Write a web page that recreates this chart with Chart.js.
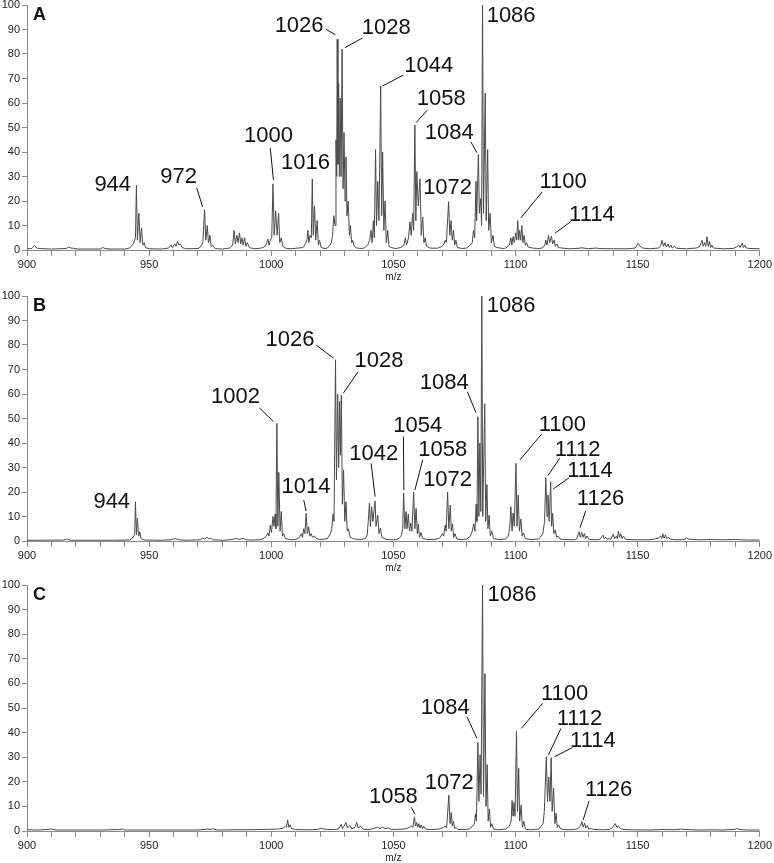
<!DOCTYPE html>
<html>
<head>
<meta charset="utf-8">
<script src="https://cdn.jsdelivr.net/npm/chart.js@4.4.1/dist/chart.umd.min.js"></script>
<style>
  html, body { margin: 0; padding: 0; background: #fff; }
  body { width: 774px; height: 863px; position: relative; overflow: hidden; }
  canvas { position: absolute; left: 0; }
</style>
</head>
<body>
<canvas id="chart-a" width="774" height="290" style="top:0px"></canvas>
<canvas id="chart-b" width="774" height="290" style="top:290px"></canvas>
<canvas id="chart-c" width="774" height="284" style="top:580px"></canvas>
<script>
// Profile spectra: [m/z, relative intensity %]
const spectrumA = [
  [900,0.5],[902,0.6],[903,1.8],[904,0.8],[905,0.6],[910,0.4],[916,0.6],[917,1.2],[918,0.8],[919,0.7],[921,0.4],
  [930,0.4],[931,1.0],[932,0.6],[934,0.4],[940,0.4],[942,0.8],[943.5,2.5],
  [944.4,5],[944.8,26.5],[945.2,4],[945.8,15],[946.3,3],[946.9,9],[947.4,2],[948,3],[948.5,1],[950,0.5],
  [955,0.4],[958,0.8],[959,2],[959.5,1],[960.5,2.5],[961,1.5],[961.6,3.5],[962.2,2],[962.8,2.5],[963.5,1],[965,0.5],
  [970,0.6],[971,1.2],[972,3],[972.7,16.5],[973.2,4],[973.8,10],[974.3,3],[974.9,6],[975.4,1.5],[976,2],[977,0.6],
  [980,0.4],[983,0.8],[984.2,2],[984.8,8],[985.3,2.5],[985.9,6],[986.4,3],[987,7],[987.5,2.5],[988,5],[988.5,2],
  [989.1,5],[989.6,1.5],[990.2,3],[991,1],[993,0.5],
  [996,0.8],[997.5,1.5],[998.2,3],[998.6,4.5],[999.1,2],[999.6,4],[1000.2,5],[1000.7,27],[1001.2,6],[1001.8,16],
  [1002.4,6],[1003,15],[1003.5,3],[1004.1,5],[1004.7,1.5],[1006,0.7],[1008,0.5],[1011,0.8],
  [1013,1],[1014,2.5],[1014.6,4],[1015,8],[1015.4,3],[1015.9,6],[1016.4,5],[1016.8,29],[1017.2,6],[1017.7,18],
  [1018.2,4],[1018.8,12],[1019.3,2],[1019.8,4],[1020.4,1],[1022,0.6],
  [1023,0.8],[1024,2],[1024.6,3],[1025.1,6],[1025.6,14],[1026.1,10],[1026.5,45],[1026.8,30],[1027.0,86],[1027.3,35],
  [1027.6,68],[1027.9,30],[1028.2,62],[1028.6,30],[1029.0,82],[1029.4,25],[1029.8,48],[1030.2,20],[1030.6,38],
  [1031.0,14],[1031.5,20],[1032.0,6],[1032.4,10],[1032.9,3],[1033.3,4],[1034,1.5],[1035,0.8],[1037,0.6],
  [1038,0.8],[1039.5,2],[1040.3,4],[1040.8,8],[1041.3,3],[1041.8,12],[1042.2,5],[1042.7,41],[1043.1,10],[1043.6,28],
  [1044.1,12],[1044.8,67],[1045.2,14],[1045.6,40],[1046.1,8],[1046.6,20],[1047.1,3],[1047.7,8],[1048.2,1.5],
  [1049,1],[1051,0.6],
  [1053,1],[1054.3,2],[1054.9,5],[1055.4,2],[1056.2,5],[1056.8,11.5],[1057.3,6],[1057.9,15],[1058.3,8],[1058.8,51],
  [1059.2,12],[1059.6,32],[1060.2,18],[1060.9,29],[1061.4,6],[1062,13.5],[1062.5,3],[1063,5],[1063.6,1.5],[1065,0.8],
  [1068,0.7],[1070,1.5],[1070.7,2.5],[1071.2,4],[1071.7,3],[1072.6,19.7],[1073.1,6],[1073.6,12],[1074.1,4],
  [1074.6,8],[1075.1,2],[1075.6,4],[1076.2,1],[1078,0.6],
  [1080,0.8],[1081.5,2],[1082.3,3],[1082.8,8],[1083.3,5],[1083.8,28],[1084.1,12],[1084.8,39],[1085.2,15],[1085.8,21],
  [1086.1,10],[1086.5,100],[1086.9,15],[1087.6,64],[1088.0,12],[1088.6,41],[1089.0,8],[1089.6,15],[1090.1,3],
  [1090.8,6],[1091.3,1.5],[1092.5,1],[1095,0.6],
  [1096,0.8],[1097.5,2],[1098.1,5],[1098.5,2],[1099,5.5],[1099.5,3],[1100.1,7],[1100.5,4],[1100.9,12],[1101.3,4],
  [1101.7,8],[1102.1,4],[1102.6,10],[1103.0,3],[1103.5,6],[1104,2],[1104.5,3],[1105.2,1.2],[1107,0.8],[1109,0.6],
  [1111,0.8],[1112,2],[1112.4,4],[1112.9,2],[1113.5,6],[1114,3],[1114.7,5.7],[1115.2,2.5],[1115.8,4],[1116.3,1.5],
  [1116.9,2.5],[1117.5,1],[1119,0.8],[1122,0.5],[1126,0.7],[1127,0.9],[1130,0.5],[1133,0.8],[1134,0.6],[1140,0.5],
  [1146,0.5],[1149,0.8],[1150.2,2.7],[1151,1.5],[1152,0.8],[1155,0.5],
  [1158.5,0.8],[1159.4,1.5],[1160,4],[1160.6,1.5],[1161.2,3],[1161.8,1.2],[1162.4,2.5],[1163,1],[1163.6,2],
  [1164.2,0.8],[1165,1.5],[1166,0.7],[1170,0.5],
  [1174,0.8],[1175.5,1.5],[1176.4,4],[1176.9,1.5],[1177.4,3],[1177.9,1.5],[1178.4,5.4],[1178.9,1.5],[1179.4,3.5],
  [1179.9,1],[1180.4,2],[1181,0.8],[1185,0.5],
  [1189,0.6],[1190.5,1.2],[1191.4,2],[1192,1],[1192.8,2.8],[1193.3,1],[1193.9,2],[1194.5,0.8],[1196,0.6],[1200,0.5]
];

const spectrumB = [
  [900,0.3],[905,0.3],[915,0.4],[916.5,0.8],[918,0.3],[925,0.3],[935,0.3],[942,0.4],[943.5,1.5],
  [944.1,3],[944.4,16],[944.8,2.5],[945.2,9.3],[945.7,2],[946.2,3.8],[946.7,1],[948,0.4],[955,0.3],
  [959,0.5],[960.5,1],[961.5,0.7],[962.5,0.5],[965,0.3],
  [971,0.5],[972,1.2],[972.8,0.8],[973.6,1.6],[974.4,0.8],[975.2,1.2],[976,0.5],[980,0.3],
  [984,0.6],[985.5,1],[987,0.7],[988.5,1.1],[989.5,0.5],[992,0.4],[995,0.5],
  [996.5,0.8],[998,2],[998.6,3.3],[999.1,2],[999.6,6.5],[1000.1,3.5],[1000.7,10],[1001.1,6],[1001.6,11],[1001.9,5],
  [1002.3,48],[1002.7,6],[1003.1,28],[1003.6,4],[1004.1,12],[1004.6,2],[1005.1,3],[1005.8,1],[1008,0.5],
  [1010,0.6],[1011.5,1.5],[1012.3,3],[1012.8,1.5],[1013.3,5],[1013.8,3],[1014.3,11.3],[1014.8,3],[1015.3,5.8],
  [1015.8,2],[1016.3,3],[1016.9,1.5],[1017.7,2],[1018.5,1],[1020,0.6],[1022,0.8],
  [1023,1],[1024.2,3],[1024.8,5],[1025.3,11],[1025.7,8],[1026.3,74],[1026.7,25],[1027.2,60],[1027.6,30],[1028,57],
  [1028.3,35],[1028.7,59.6],[1029.1,15],[1029.6,29],[1030.1,8],[1030.6,16],[1031.1,4],[1031.6,5],[1032.3,1.5],
  [1034,0.8],[1037,0.6],
  [1038.5,1],[1039.3,2.5],[1039.7,8],[1040.2,15.4],[1040.6,6],[1041.1,14],[1041.6,8],[1042.5,16.3],[1042.9,6],
  [1043.6,10.6],[1044.1,3],[1044.7,5.3],[1045.3,1.5],[1047,0.6],[1050,0.5],
  [1052,0.8],[1053.2,2],[1053.8,5],[1054.2,19.5],[1054.7,5],[1055.2,12],[1055.6,5],[1056.1,11],[1056.6,4],
  [1057.1,7.3],[1057.6,4],[1058.3,20],[1058.8,5],[1059.3,13.3],[1059.8,3],[1060.2,7],[1060.7,1.5],[1061.3,3.5],
  [1062,1],[1064,0.6],
  [1067,0.6],[1069,1.2],[1070.1,3],[1070.6,2],[1071.2,6.5],[1071.6,4],[1072.2,20],[1072.7,5],[1073.3,14.7],
  [1073.7,4],[1074.2,7],[1074.7,1.5],[1075.2,3],[1076,0.8],[1078,0.6],
  [1080,0.8],[1081.5,2],[1082.3,4],[1082.9,7],[1083.4,4],[1083.9,15],[1084.2,8],[1084.6,50.7],[1085.0,10],
  [1085.4,40],[1085.8,12],[1086.2,100],[1086.6,10],[1087.4,56],[1087.8,8],[1088.3,23],[1088.7,5],[1089.2,10.6],
  [1089.7,2],[1090.3,4],[1091,1],[1093,0.6],
  [1096,0.8],[1097,2],[1097.6,5],[1098.1,14],[1098.6,4],[1099,11.4],[1099.5,6],[1100.2,31.7],[1100.6,6],
  [1101.1,18.8],[1101.6,4],[1102.2,9],[1102.7,2],[1103.3,3.3],[1104,1],[1106,0.6],
  [1109.5,0.8],[1110.5,2],[1111.2,3],[1111.9,8],[1112.4,25.8],[1112.9,10],[1113.3,18.8],[1113.8,8],[1114.4,24.2],
  [1114.8,6],[1115.2,11.3],[1115.7,3],[1116.3,4.5],[1116.8,1.5],[1117.4,2],[1118.2,0.8],[1120,0.6],[1124,0.5],
  [1125,0.8],[1126,3.8],[1126.5,1.5],[1127.1,3.5],[1127.6,1.5],[1128.2,3],[1128.7,1],[1129.3,2],[1130,0.7],[1133,0.5],
  [1134.5,0.7],[1135.8,2.4],[1136.3,0.8],[1136.9,1.5],[1137.5,0.7],[1138.3,1],[1139,0.6],[1140,2.8],[1140.6,1],
  [1141.3,2],[1141.7,1],[1142.1,4],[1142.6,1.5],[1143.1,3],[1143.6,1],[1144.2,2],[1145,0.7],[1148,0.5],
  [1155,0.5],[1157,0.8],[1158.5,1.2],[1159.4,2],[1159.9,1],[1160.3,3],[1160.8,1.2],[1161.4,2.5],[1161.9,1],
  [1162.5,1.5],[1163.5,0.7],[1166,0.5],[1169,0.6],[1170,1.2],[1171,0.7],[1175,0.5],[1180,0.6],[1185,0.5],
  [1190,0.6],[1195,0.4],[1200,0.4]
];

const spectrumC = [
  [900,0.5],[905,0.4],[910,0.8],[912,0.4],[920,0.4],[930,0.4],[938,0.6],[939,0.8],[940,0.4],[950,0.4],[960,0.4],
  [970,0.4],[974,0.8],[975,0.6],[976,0.9],[978,0.4],[985,0.5],[990,0.5],[995,0.6],[999,0.7],
  [1003,0.8],[1005,1.2],[1005.8,2],[1006.3,1.5],[1006.7,4.5],[1007.2,1.5],[1007.7,2.5],[1008.3,1],[1010,0.6],
  [1015,0.5],[1019,0.6],[1020.5,1.2],[1021.5,0.8],[1023,0.6],[1026,0.6],
  [1027.5,0.8],[1028.6,2.7],[1029.2,1],[1029.8,2],[1030.6,3.5],[1031.2,1.2],[1032.2,2.3],[1033,0.8],[1034.3,1.5],
  [1035,3.5],[1035.6,1.2],[1036.6,2],[1037.5,0.8],[1040,0.6],[1042,1],[1043.5,1.5],[1044.5,1],[1045.5,1.6],
  [1046.5,1],[1048,1.2],[1049,0.7],[1051,0.6],[1054,0.8],
  [1055.5,1],[1056.5,1.5],[1057.5,2],[1058,1.5],[1058.6,5.8],[1059.1,2],[1059.5,3.4],[1060,1.5],[1060.4,3],
  [1060.9,1.2],[1061.4,2.5],[1061.9,1],[1062.4,2],[1063.2,0.8],[1065,0.6],
  [1069,0.8],[1070.5,1.5],[1071.3,2],[1071.8,1.2],[1072.7,14.5],[1073.2,3],[1073.7,7.5],[1074.1,2],[1074.6,4],
  [1075.1,1],[1075.7,1.5],[1076.5,0.6],[1079,0.6],
  [1081,0.8],[1082.5,2],[1083.2,3],[1083.6,7],[1084,4],[1084.6,36],[1085,12],[1085.5,31],[1085.9,15],[1086.5,100],
  [1086.9,14],[1087.5,64],[1087.9,10],[1088.4,27],[1088.8,4],[1089.3,9],[1089.8,1.5],[1090.3,3],[1091,0.8],[1093,0.5],
  [1096,0.8],[1097.5,2],[1098.2,4],[1098.6,12.4],[1099,6],[1099.4,11.6],[1099.8,6],[1100.4,40.5],[1100.8,8],
  [1101.3,25.5],[1101.7,4],[1102.3,10.6],[1102.8,1.5],[1103.4,4],[1104,0.8],[1106,0.5],
  [1109.5,0.8],[1110.5,2],[1111.3,3],[1111.8,8],[1112.6,30.2],[1113.1,12],[1113.6,22],[1114.1,12],[1114.6,29.8],
  [1115.0,8],[1115.6,17.3],[1116.1,3],[1116.6,7.2],[1117.1,1.5],[1117.6,2.5],[1118.5,0.8],[1121,0.5],[1124,0.6],
  [1125.5,1],[1126.6,2],[1127.2,3.8],[1127.7,1.5],[1128.3,3.2],[1128.8,1.2],[1129.4,2.2],[1130,0.8],[1131,1],
  [1132,0.6],[1136,0.5],
  [1138.5,0.6],[1139.8,1.5],[1140.8,3],[1141.5,1.5],[1142.2,2],[1143,1],[1144,0.6],[1148,0.5],[1155,0.4],
  [1160,0.6],[1165,0.5],[1168,0.8],[1169,0.6],[1175,0.4],[1180,0.5],[1185,0.4],[1190,0.7],[1191,1],[1192,0.6],
  [1195,0.4],[1200,0.4]
];

// Peak labels: [text, label m/z, label intensity, leader line [m/z1, y1, m/z2, y2] or null]
const labelsA = [
  ['944', 935.1, 26.5, null],
  ['972', 962.1, 29.8, [969.5, 25.3, 971.9, 17.6]],
  ['1000', 998.9, 46.5, [999.6, 41.6, 1000.9, 28.6]],
  ['1016', 1014.0, 35.5, null],
  ['1026', 1011.4, 91.4, [1022.2, 90.2, 1026.3, 87.8]],
  ['1028', 1047.1, 90.8, [1037.3, 86.5, 1030.2, 82.6]],
  ['1044', 1064.5, 75.1, [1054.1, 71.4, 1045.5, 66.9]],
  ['1058', 1069.6, 61.6, [1063.9, 57.1, 1059.3, 52.0]],
  ['1084', 1072.9, 47.6, [1081.7, 44.2, 1084.2, 39.7]],
  ['1072', 1072.2, 25.5, null],
  ['1086', 1098.2, 95.5, null],
  ['1100', 1119.5, 27.8, [1110.9, 23.7, 1102.2, 13.1]],
  ['1114', 1131.3, 14.3, [1122.6, 11.6, 1116.1, 6.8]]
];

const labelsB = [
  ['944', 934.7, 15.9, null],
  ['1002', 985.4, 58.8, [995.2, 54.3, 1000.9, 48.7]],
  ['1014', 1014.2, 22.2, [1013.3, 16.7, 1014.3, 12.2]],
  ['1026', 1007.7, 82.0, [1018.4, 80.0, 1025.5, 74.6]],
  ['1028', 1044.1, 73.3, [1035.4, 68.9, 1029.5, 60.3]],
  ['1042', 1042.0, 35.7, [1040.9, 31.7, 1042.5, 18.1]],
  ['1054', 1060.0, 47.1, [1054.1, 42.6, 1054.3, 20.8]],
  ['1058', 1070.2, 37.1, [1062.0, 33.1, 1058.8, 20.8]],
  ['1072', 1072.2, 24.9, null],
  ['1084', 1070.8, 64.7, [1080.3, 60.9, 1083.8, 52.4]],
  ['1086', 1098.2, 96.1, null],
  ['1100', 1119.2, 47.3, [1110.7, 43.6, 1101.8, 33.1]],
  ['1112', 1125.4, 37.1, [1118.1, 33.8, 1113.3, 26.7]],
  ['1114', 1130.5, 28.8, [1121.9, 25.8, 1115.4, 21.2]],
  ['1126', 1134.8, 17.3, [1128.7, 12.2, 1126.4, 5.4]]
];

const labelsC = [
  ['1058', 1050.0, 14.0, [1057.3, 9.6, 1058.9, 6.8]],
  ['1072', 1072.9, 19.7, null],
  ['1084', 1071.2, 50.2, [1080.1, 46.5, 1084.2, 37.7]],
  ['1086', 1098.6, 96.1, null],
  ['1100', 1120.1, 55.9, [1111.1, 51.9, 1102.4, 41.7]],
  ['1112', 1126.2, 45.7, [1118.6, 41.7, 1113.5, 30.9]],
  ['1114', 1131.7, 36.6, [1123.3, 33.9, 1116.0, 30.2]],
  ['1126', 1138.1, 16.7, [1130.1, 12.2, 1127.7, 4.5]]
];

const FONT = '"Liberation Sans", Arial, Helvetica, sans-serif';
const AXIS_COLOR = '#8a8a8a';
const TEXT_COLOR = '#222';

// Draws panel letter and peak labels with leader lines
const peakLabelPlugin = {
    id: 'peakLabels',
    afterDatasetsDraw(chart, args, opts) {
        const { ctx, chartArea, scales } = chart;
        const xs = scales.x;
        const ys = scales.y;
        ctx.save();
        ctx.fillStyle = '#111';
        ctx.font = 'bold 18px ' + FONT;
        ctx.textAlign = 'left';
        ctx.textBaseline = 'alphabetic';
        ctx.fillText(opts.panel, chartArea.left + 6, chartArea.top + 15);

        ctx.font = '22px ' + FONT;
        ctx.textAlign = 'center';
        ctx.textBaseline = 'middle';
        ctx.strokeStyle = '#111';
        ctx.lineWidth = 1;
        for (const [text, mz, val, line] of opts.items) {
            if (line) {
                ctx.beginPath();
                ctx.moveTo(xs.getPixelForValue(line[0]), ys.getPixelForValue(line[1]));
                ctx.lineTo(xs.getPixelForValue(line[2]), ys.getPixelForValue(line[3]));
                ctx.stroke();
            }
            ctx.fillText(text, xs.getPixelForValue(mz), ys.getPixelForValue(val));
        }
        ctx.restore();
    },
};

function makeChart(id, spectrum, labels, panel, padding) {
    return new Chart(document.getElementById(id), {
        type: 'line',
        data: {
            datasets: [{
                data: spectrum.map(([x, y]) => ({ x, y })),
                borderColor: '#4a4a4a',
                borderWidth: 1,
                pointRadius: 0,
                tension: 0,
                fill: false,
            }],
        },
        options: {
            responsive: false,
            animation: false,
            devicePixelRatio: 1,
            layout: { padding },
            plugins: {
                legend: { display: false },
                tooltip: { enabled: false },
                peakLabels: { panel, items: labels },
            },
            scales: {
                x: {
                    type: 'linear',
                    min: 900,
                    max: 1200,
                    afterFit: (s) => { s.height = 33; },
                    ticks: {
                        stepSize: 10,
                        autoSkip: false,
                        maxRotation: 0,
                        padding: 2,
                        color: TEXT_COLOR,
                        font: { family: FONT, size: 11 },
                        callback: (v) => (v % 50 === 0 ? String(v) : ''),
                    },
                    grid: { drawOnChartArea: false, drawTicks: true, tickLength: 6, color: AXIS_COLOR },
                    border: { color: AXIS_COLOR, width: 1 },
                    title: {
                        display: true,
                        text: 'm/z',
                        color: TEXT_COLOR,
                        font: { family: FONT, size: 10 },
                        padding: 0,
                    },
                },
                y: {
                    min: 0,
                    max: 100,
                    afterFit: (s) => { s.width = 27; s.paddingTop = 0; s.paddingBottom = 0; },
                    ticks: {
                        stepSize: 10,
                        padding: 2,
                        color: TEXT_COLOR,
                        font: { family: FONT, size: 11 },
                    },
                    grid: { drawOnChartArea: false, drawTicks: true, tickLength: 5, color: AXIS_COLOR },
                    border: { color: AXIS_COLOR, width: 1 },
                },
            },
        },
        plugins: [peakLabelPlugin],
    });
}

makeChart('chart-a', spectrumA, labelsA, 'A', { top: 5, right: 13, bottom: 7, left: 0 });
makeChart('chart-b', spectrumB, labelsB, 'B', { top: 6, right: 13, bottom: 6, left: 0 });
makeChart('chart-c', spectrumC, labelsC, 'C', { top: 5, right: 13, bottom: 0, left: 0 });
</script>
</body>
</html>
